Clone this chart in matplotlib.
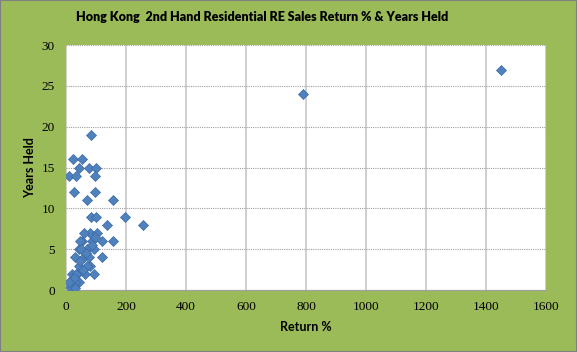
import matplotlib.pyplot as plt

# return % and years held for each sale
returns = [83, 22, 53, 44, 75, 100, 11, 33, 98, 28, 98, 69, 158, 83, 100, 198, 258,
           137, 119, 158, 81, 103, 59, 53, 87, 42, 70, 92, 120, 31, 59, 81, 42, 92,
           64, 20, 37, 14, 42, 26, 14, 48, 75, 30, 50, 65, 45, 70, 55, 33, 25, 10,
           30, 95, 85, 790, 1450]
years = [19, 16, 16, 15, 15, 15, 14, 14, 14, 12, 12, 11, 11, 9, 9, 9, 8,
         8, 6, 6, 7, 7, 7, 6, 6, 5, 5, 5, 4, 4, 4, 3, 3, 2,
         2, 2, 2, 1, 1, 0.5, 0.4, 6, 4, 1, 5, 4.5, 3.5, 3, 2.5, 2, 1.5, 1,
         0.3, 6.5, 5.5, 24, 27]

green = '#9bbb59'
fig = plt.figure(figsize=(5.77, 3.52), dpi=100, facecolor=green)
ax = fig.add_axes([0.1144, 0.176, 0.832, 0.696])
ax.set_facecolor('white')

ax.scatter(returns, years, marker='D', s=26, color='#4f81bd', edgecolor='#3a6aa8',
           linewidth=0.5, zorder=3)

ax.set_xlim(0, 1600)
ax.set_ylim(0, 30)
ax.set_xticks(range(0, 1601, 200))
ax.set_yticks(range(0, 31, 5))
ax.grid(axis='x', color='#c8c8c8', linewidth=1.2)
ax.grid(axis='y', color='#a0a0a0', linewidth=0.8, linestyle=(0, (1, 1)))
ax.set_axisbelow(True)

for s in ['top', 'right', 'left']:
    ax.spines[s].set_visible(False)
ax.spines['bottom'].set_color('#a0a0a0')
ax.tick_params(length=0, labelsize=9.5, pad=8)
for lab in ax.get_xticklabels() + ax.get_yticklabels():
    lab.set_family('Liberation Serif')

ax.set_xlabel('Return %', fontsize=9, fontweight='bold', family='Lato', labelpad=6)
ax.set_ylabel('Years Held', fontsize=9, fontweight='bold', family='Lato', labelpad=4)
fig.text(0.455, 0.952, 'Hong Kong  2nd Hand Residential RE Sales Return % & Years Held',
         ha='center', va='center', fontsize=9, fontweight='heavy', family='Lato')

fig.patches.append(plt.Rectangle((0, 0), 1, 1, transform=fig.transFigure, fill=False,
                                 edgecolor='#808080', linewidth=1.5))
fig.savefig('out.png', dpi=100, facecolor=green)
